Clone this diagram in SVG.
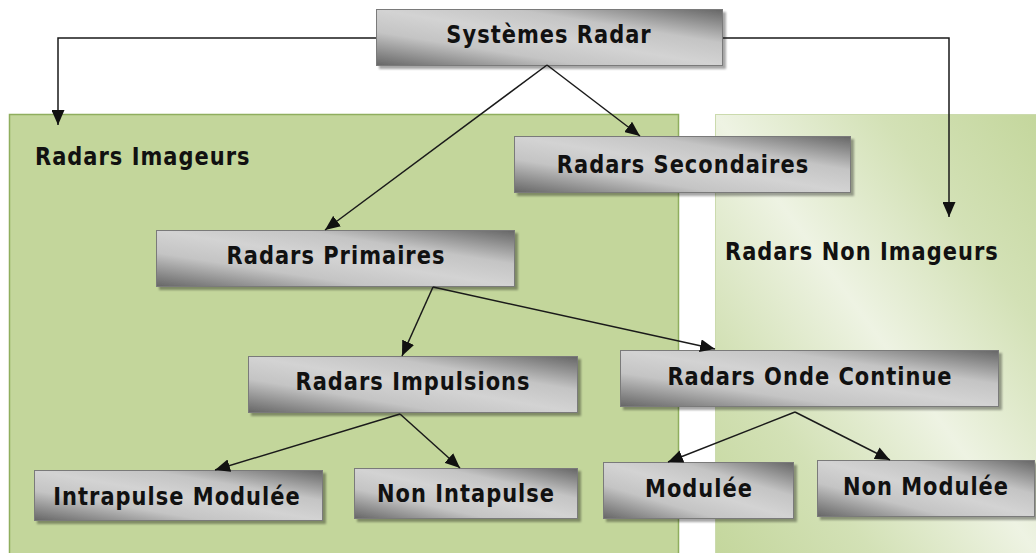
<svg xmlns="http://www.w3.org/2000/svg" width="1036" height="553" viewBox="0 0 1036 553">
  <defs>
    <!-- metallic grey fill of the boxes: dark corners, light diagonal -->
    <linearGradient id="metal" x1="0" y1="1" x2="1" y2="0">
      <stop offset="0" stop-color="#666666"/>
      <stop offset="0.3" stop-color="#c4c4c4"/>
      <stop offset="0.5" stop-color="#d3d3d3"/>
      <stop offset="0.7" stop-color="#c4c4c4"/>
      <stop offset="1" stop-color="#666666"/>
    </linearGradient>
    <!-- pale green sheen of the right-hand zone -->
    <linearGradient id="sheen" x1="0" y1="1" x2="1" y2="0">
      <stop offset="0" stop-color="#c3d69b"/>
      <stop offset="0.25" stop-color="#d3e1b6"/>
      <stop offset="0.5" stop-color="#eef3e3"/>
      <stop offset="0.75" stop-color="#d3e1b6"/>
      <stop offset="1" stop-color="#c3d69b"/>
    </linearGradient>
    <filter id="shadow" x="-5%" y="-10%" width="115%" height="130%">
      <feDropShadow dx="3" dy="3" stdDeviation="1" flood-color="#000" flood-opacity="0.35"/>
    </filter>
    <marker id="arrow" markerUnits="userSpaceOnUse" markerWidth="15" markerHeight="13" refX="15" refY="6.5" orient="auto">
      <path d="M0,0 L15,6.5 L0,13 Z" fill="#111"/>
    </marker>
  </defs>
  <style>
    .box { fill: url(#metal); stroke: #7a7a7a; stroke-width: 1; filter: url(#shadow); }
    .lbl { font-family: "DejaVu Sans", "Liberation Sans", sans-serif; font-weight: bold; font-size: 21px; letter-spacing: 1px; fill: #111; text-anchor: middle; }
    .zone { font-family: "DejaVu Sans", "Liberation Sans", sans-serif; font-weight: bold; font-size: 21px; letter-spacing: 1px; fill: #111; }
    .link { fill: none; stroke: #1a1a1a; stroke-width: 1.5; marker-end: url(#arrow); }
  </style>

  <rect width="1036" height="553" fill="#ffffff"/>

  <!-- zones -->
  <g id="zone-imageurs">
    <rect x="9.5" y="114.5" width="669" height="450" fill="#c3d69b" stroke="#8fae5e" stroke-width="1.5"/>
    <text class="zone" transform="translate(35 165) scale(1 1.18)">Radars Imageurs</text>
  </g>
  <g id="zone-non-imageurs">
    <rect x="715.5" y="114.5" width="330" height="450" fill="url(#sheen)" stroke="#cbdaad" stroke-width="1"/>
    <text class="zone" transform="translate(725 260) scale(1 1.18)">Radars Non Imageurs</text>
  </g>

  <!-- nodes -->
  <g id="systemes-radar">
    <rect class="box" x="376.5" y="9.5" width="346" height="56"/>
    <text class="lbl" transform="translate(549 43) scale(1 1.18)">Systèmes Radar</text>
  </g>
  <g id="radars-secondaires">
    <rect class="box" x="514.5" y="136.5" width="336" height="56"/>
    <text class="lbl" transform="translate(683 173) scale(1 1.18)">Radars Secondaires</text>
  </g>
  <g id="radars-primaires">
    <rect class="box" x="156.5" y="230.5" width="358" height="56"/>
    <text class="lbl" transform="translate(336 264) scale(1 1.18)">Radars Primaires</text>
  </g>
  <g id="radars-impulsions">
    <rect class="box" x="248.5" y="356.5" width="329" height="56"/>
    <text class="lbl" transform="translate(413 390) scale(1 1.18)">Radars Impulsions</text>
  </g>
  <g id="radars-onde-continue">
    <rect class="box" x="620.5" y="350.5" width="378" height="56"/>
    <text class="lbl" transform="translate(810 385) scale(1 1.18)">Radars Onde Continue</text>
  </g>
  <g id="intrapulse-modulee">
    <rect class="box" x="34.5" y="470.5" width="288" height="50"/>
    <text class="lbl" transform="translate(177 505) scale(1 1.18)">Intrapulse Modulée</text>
  </g>
  <g id="non-intapulse">
    <rect class="box" x="354.5" y="468.5" width="223" height="50"/>
    <text class="lbl" transform="translate(466 502) scale(1 1.18)">Non Intapulse</text>
  </g>
  <g id="modulee">
    <rect class="box" x="603.5" y="462.5" width="190" height="56"/>
    <text class="lbl" transform="translate(699 497) scale(1 1.18)">Modulée</text>
  </g>
  <g id="non-modulee">
    <rect class="box" x="817.5" y="460.5" width="217" height="56"/>
    <text class="lbl" transform="translate(926 495) scale(1 1.18)">Non Modulée</text>
  </g>

  <!-- connectors -->
  <g id="connectors">
    <path class="link" d="M376,38 H58 V125"/>
    <path class="link" d="M723,38 H949 V217"/>
    <path class="link" d="M547,65 L325,230"/>
    <path class="link" d="M547,65 L640,136"/>
    <path class="link" d="M433,287 L402,356"/>
    <path class="link" d="M433,287 L715,349"/>
    <path class="link" d="M400,414 L215,470"/>
    <path class="link" d="M400,414 L460,468"/>
    <path class="link" d="M795,412 L668,462"/>
    <path class="link" d="M795,412 L890,460"/>
  </g>
</svg>
